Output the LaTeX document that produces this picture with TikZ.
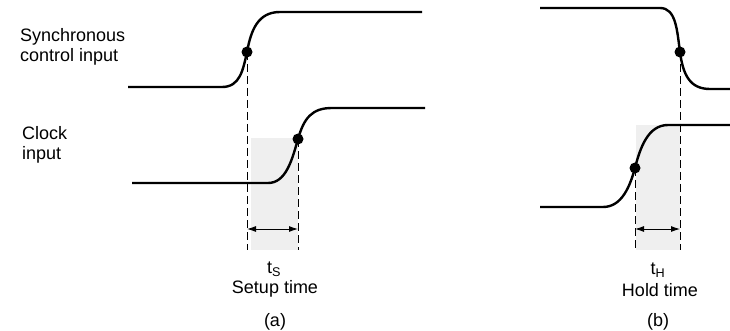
\documentclass[tikz,border=0pt]{standalone}
\usepackage{fontspec}
\setmainfont{Liberation Sans}
\usetikzlibrary{arrows.meta}
\definecolor{winfill}{HTML}{EFEFEF}
\tikzset{
  sig/.style={line width=2.4pt, line join=round},
  guide/.style={line width=0.9pt, dash pattern=on 8pt off 4pt},
  dim/.style={line width=0.9pt, {Latex[length=9pt,width=6pt]}-{Latex[length=9pt,width=6pt]}},
  dot/.style={circle, fill=black, inner sep=0pt, minimum size=11pt},
  lbl/.style={font=\fontsize{18}{20}\selectfont, inner sep=0pt},
  side/.style={lbl, align=left, anchor=west},
}
\begin{document}
\begin{tikzpicture}[x=1pt,y=-1pt]
\useasboundingbox (0,0) rectangle (730,331);
% shaded windows
\fill[winfill] (251,138) rectangle (298,250);
\fill[winfill] (636,125) rectangle (680,250);

% ---------- panel (a) ----------
\node[side] (synclbl) at (20,47) {Synchronous\\control input};
\node[side] (clklbl) at (22,145) {Clock\\input};

\draw[sig] (128,87) -- (222,87) .. controls (240,87) and (243,70) .. (247,52)
  .. controls (251,30) and (258,12) .. (280,12) -- (422,12);
\draw[sig] (132,183) -- (268,183) .. controls (286,183) and (292,160) .. (298,139)
  .. controls (304,118) and (312,108) .. (332,108) -- (425,108);

\node[dot] (da) at (247,52) {};
\node[dot] (ca) at (298,139) {};
\coordinate (dabot) at (247,250);
\coordinate (cabot) at (298,250);
\draw[guide] (da.center) -- (dabot);
\draw[guide] (ca.center) -- (cabot);
\coordinate (aL) at (247,229);
\coordinate (aR) at (298,229);
\draw[dim] (aL) -- (aR);

\node[lbl] (ts) at (274,269) {t\textsubscript{S}};
\node[lbl] (setup) at (275,289) {Setup time};
\node[lbl] (pa) at (275,322) {(a)};

% ---------- panel (b) ----------
\draw[sig] (540,8) -- (660,8) .. controls (676,8) and (677,30) .. (680,52)
  .. controls (683,75) and (690,89) .. (710,89) -- (730,89);
\draw[sig] (540,207) -- (603,207) .. controls (622,207) and (630,186) .. (635,168)
  .. controls (640,148) and (648,125) .. (668,125) -- (730,125);

\node[dot] (db) at (680,52) {};
\node[dot] (cb) at (635,168) {};
\coordinate (dbbot) at (680,250);
\coordinate (cbbot) at (635,250);
\draw[guide] (db.center) -- (dbbot);
\draw[guide] (cb.center) -- (cbbot);
\coordinate (bL) at (635,229);
\coordinate (bR) at (680,229);
\draw[dim] (bL) -- (bR);

\node[lbl] (th) at (658,270) {t\textsubscript{H}};
\node[lbl] (hold) at (660,290) {Hold time};
\node[lbl] (pb) at (658,322) {(b)};
\end{tikzpicture}
\end{document}
